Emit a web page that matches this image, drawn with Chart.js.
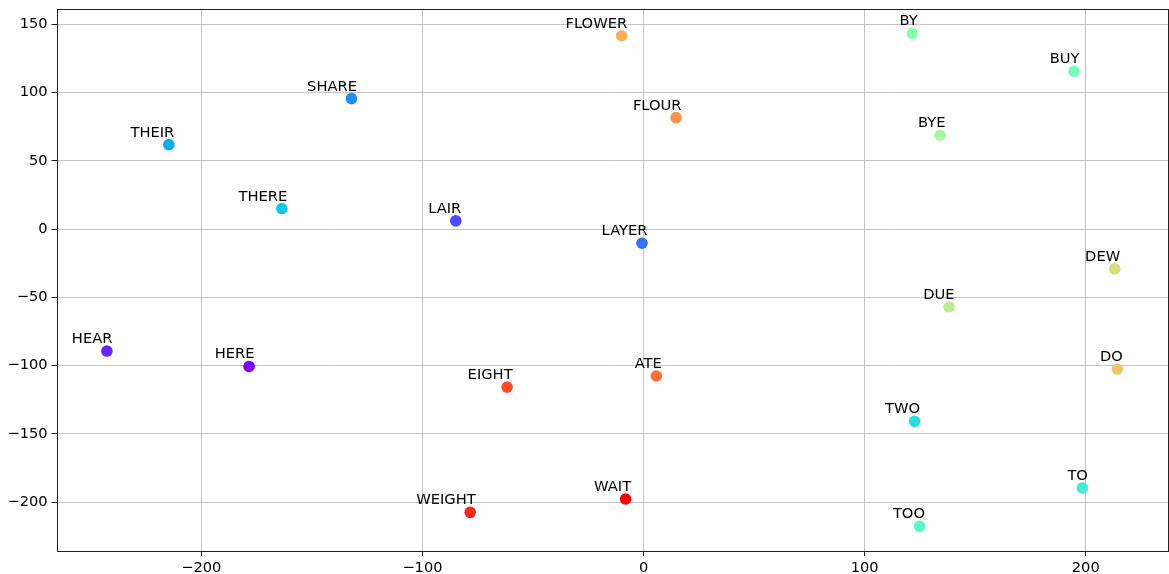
<!DOCTYPE html>
<html>
<head>
<meta charset="utf-8">
<script src="https://cdn.jsdelivr.net/npm/chart.js@4/dist/chart.umd.min.js"></script>
<style>
  html, body { margin: 0; padding: 0; background: #fff; }
  canvas { display: block; }
</style>
</head>
<body>
<canvas id="wordChart" width="1169" height="574"></canvas>
<script>
// word embedding projection, one point per word
const words = ['HERE', 'HEAR', 'LAIR', 'LAYER', 'SHARE', 'THEIR', 'THERE', 'TWO', 'TO', 'TOO', 'BUY',
  'BY', 'BYE', 'DUE', 'DEW', 'DO', 'FLOWER', 'FLOUR', 'ATE', 'EIGHT', 'WEIGHT', 'WAIT'];
const xVals = [-178.4, -242.7, -84.9, -0.7, -132.1, -214.7, -163.6, 122.6, 198.5, 124.8, 194.7,
  121.5, 134.1, 138.2, 213.1, 214.3, -9.9, 14.7, 5.8, -61.7, -78.4, -8.1];
const yVals = [-100.6, -89.3, 6.1, -10.3, 95.6, 61.9, 15.1, -140.8, -189.6, -217.7, 115.7,
  143.5, 68.8, -56.9, -29.1, -102.5, 141.7, 81.7, -107.6, -115.7, -207.5, -197.7];
const pointColors = ['#8000ff', '#6726fe', '#4f4bfc', '#376ff9', '#1e90f4', '#06aded', '#12c7e6',
  '#2adddd', '#43edd3', '#5bf9c7', '#73febb', '#8cfeae', '#a4f99f', '#bced90', '#d5dd80',
  '#edc76f', '#ffad5d', '#ff904b', '#ff6f39', '#ff4b26', '#ff2613', '#ff0000'];
const xTicks = [-200, -100, 0, 100, 200];
const yTicks = [-200, -150, -100, -50, 0, 50, 100, 150];

const FONT = 'DejaVu Sans';
const PLOT_RIGHT = 1168;
const minus = v => String(v).replace('-', '\u2212');

// text labels next to each point + full frame around the axes
const labelPlugin = {
  id: 'wordLabels',
  afterLayout(chart) {
    // stretch plot area to the right edge like the original figure
    const a = chart.chartArea;
    const xs = chart.scales.x;
    a.right = PLOT_RIGHT;
    a.width = a.right - a.left;
    xs.right = PLOT_RIGHT;
    xs.width = xs.right - xs.left;
    xs.configure();
  },
  afterDatasetsDraw(chart) {
    const ctx = chart.ctx;
    const meta = chart.getDatasetMeta(0);
    ctx.save();
    ctx.font = '14.7px "' + FONT + '"';
    ctx.fillStyle = '#000';
    ctx.textAlign = 'right';
    ctx.textBaseline = 'alphabetic';
    meta.data.forEach((pt, i) => {
      ctx.fillText(words[i], pt.x + 5.5, pt.y - 8);
    });
    const a = chart.chartArea;
    ctx.strokeStyle = '#222';
    ctx.lineWidth = 1;
    ctx.strokeRect(Math.round(a.left) + 0.5, Math.round(a.top) + 0.5,
      Math.round(a.right - a.left) - 1, Math.round(a.bottom - a.top));
    ctx.restore();
  }
};

new Chart(document.getElementById('wordChart'), {
  type: 'scatter',
  data: {
    datasets: [{
      data: words.map((w, i) => ({ x: xVals[i], y: yVals[i] })),
      backgroundColor: pointColors,
      pointBackgroundColor: pointColors,
      pointBorderWidth: 0,
      pointRadius: 5.8,
      pointHoverRadius: 5.8
    }]
  },
  options: {
    responsive: false,
    animation: false,
    events: [],
    layout: { padding: { top: 9, right: 1, left: 0, bottom: 0 } },
    plugins: { legend: { display: false }, tooltip: { enabled: false } },
    scales: {
      x: {
        type: 'linear',
        min: -265.5,
        max: 237.2,
        afterBuildTicks: s => { s.ticks = xTicks.map(v => ({ value: v })); },
        afterFit: s => { s.height = 23; s.paddingLeft = 0; s.paddingRight = 0; },
        grid: { color: '#c4c4c4', lineWidth: 1, tickLength: 5, tickColor: '#222', drawTicks: true },
        border: { display: false },
        ticks: {
          color: '#000',
          font: { family: FONT, size: 14.6 },
          padding: 3,
          maxRotation: 0,
          autoSkip: false,
          callback: v => minus(v)
        }
      },
      y: {
        type: 'linear',
        min: -235.8,
        max: 161.3,
        afterBuildTicks: s => { s.ticks = yTicks.map(v => ({ value: v })); },
        afterFit: s => { s.width = 56.5; s.paddingTop = 0; s.paddingBottom = 0; },
        grid: { color: '#c4c4c4', lineWidth: 1, tickLength: 5, tickColor: '#222', drawTicks: true },
        border: { display: false },
        ticks: {
          color: '#000',
          font: { family: FONT, size: 14.6 },
          padding: 4,
          autoSkip: false,
          callback: v => minus(v)
        }
      }
    }
  },
  plugins: [labelPlugin]
});
</script>
</body>
</html>
